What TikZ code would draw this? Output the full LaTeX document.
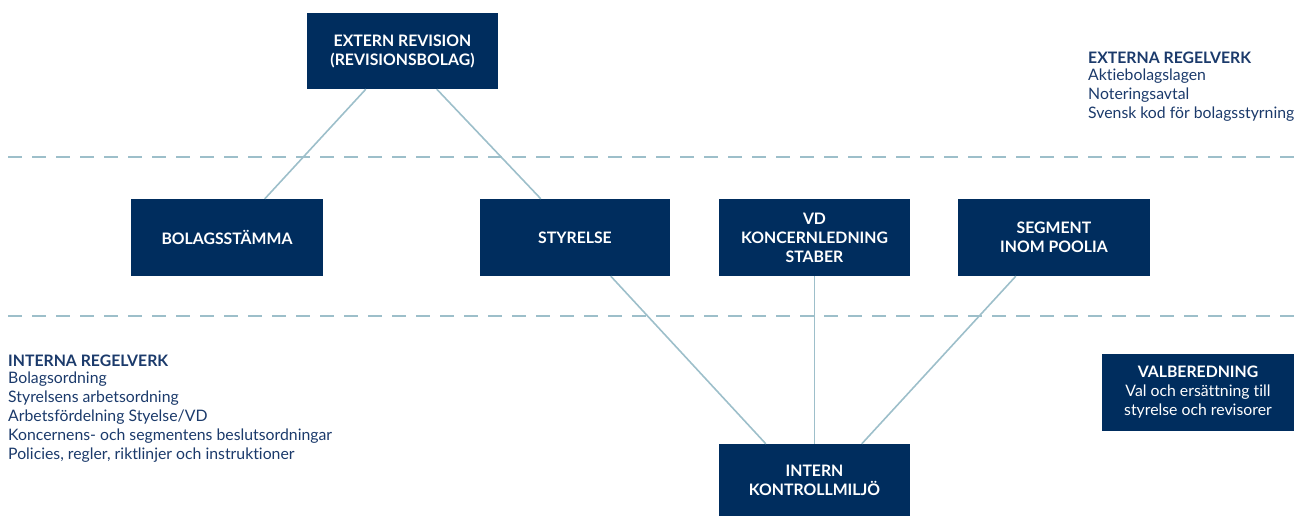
\documentclass[tikz,border=0pt]{standalone}
\usepackage{fontspec}
\setmainfont{Lato}[Ligatures={NoCommon,NoRare}]
\usetikzlibrary{calc}
\definecolor{navy}{HTML}{002D5E}
\definecolor{navytext}{HTML}{1B3A6B}
\definecolor{conn}{HTML}{9DBFCA}
\tikzset{
  box/.style={fill=navy, draw=none, text=white, font=\fontsize{15.8}{19}\selectfont\bfseries, align=center, inner sep=0pt},
  link/.style={draw=conn, line width=1.6pt},
  sep/.style={draw=conn, line width=2pt, dash pattern=on 14pt off 10pt},
  rules/.style={text=navytext, font=\fontsize{15.8}{19}\selectfont, align=left, inner sep=0pt}
}
\begin{document}
\begin{tikzpicture}[x=1pt,y=-1pt]
\useasboundingbox (0,0) rectangle (1294,516);
% separators
\coordinate (s1a) at (8,157);
\coordinate (s1b) at (1294,157);
\coordinate (s2a) at (8,316);
\coordinate (s2b) at (1294,316);
\draw[sep] (s1a) -- (s1b);
\draw[sep] (s2a) -- (s2b);
% boxes
\node[box, minimum width=191pt, minimum height=76pt] (ext) at (402.5,51) {\fontsize{15.8}{17.5}\selectfont EXTERN REVISION\\(REVISIONSBOLAG)};
\node[box, minimum width=192pt, minimum height=77pt] (bol) at (227,237.5) {BOLAGSSTÄMMA};
\node[box, minimum width=190pt, minimum height=77pt] (sty) at (575,237.5) {STYRELSE};
\node[box, minimum width=191pt, minimum height=77pt] (vd) at (814.5,237.5) {\fontsize{15.8}{20}\selectfont VD\\KONCERNLEDNING\\STABER};
\node[box, minimum width=192pt, minimum height=77pt] (seg) at (1054,237.5) {SEGMENT\\INOM POOLIA};
\node[box, minimum width=191pt, minimum height=72pt] (ik) at (814.5,480) {\fontsize{15.8}{20}\selectfont INTERN\\KONTROLLMILJÖ};
\node[box, minimum width=192pt, minimum height=77pt] (val) at (1198,392) {VALBEREDNING\\\mdseries Val och ersättning till\\\mdseries styrelse och revisorer};
% connectors
\draw[link] ($(ext.south west)+(59,0)$) -- ($(bol.north west)+(134,0)$);
\draw[link] ($(ext.south west)+(130,0)$) -- ($(sty.north west)+(61,0)$);
\draw[link] ($(sty.south west)+(131,0)$) -- ($(ik.north west)+(47,0)$);
\draw[link] (vd.south) -- (ik.north);
\draw[link] ($(seg.south west)+(58,0)$) -- ($(ik.north west)+(143,0)$);
% text blocks
\node[rules, anchor=north west] (ext-rules) at (1088,52) {\textbf{EXTERNA REGELVERK}\\[-2pt]Aktiebolagslagen\\Noteringsavtal\\Svensk kod för bolagsstyrning};
\node[rules, anchor=north west] (int-rules) at (8,355) {\textbf{INTERNA REGELVERK}\\[-2pt]Bolagsordning\\Styrelsens arbetsordning\\Arbetsfördelning Styelse/VD\\Koncernens- och segmentens beslutsordningar\\Policies, regler, riktlinjer och instruktioner};
\end{tikzpicture}
\end{document}
